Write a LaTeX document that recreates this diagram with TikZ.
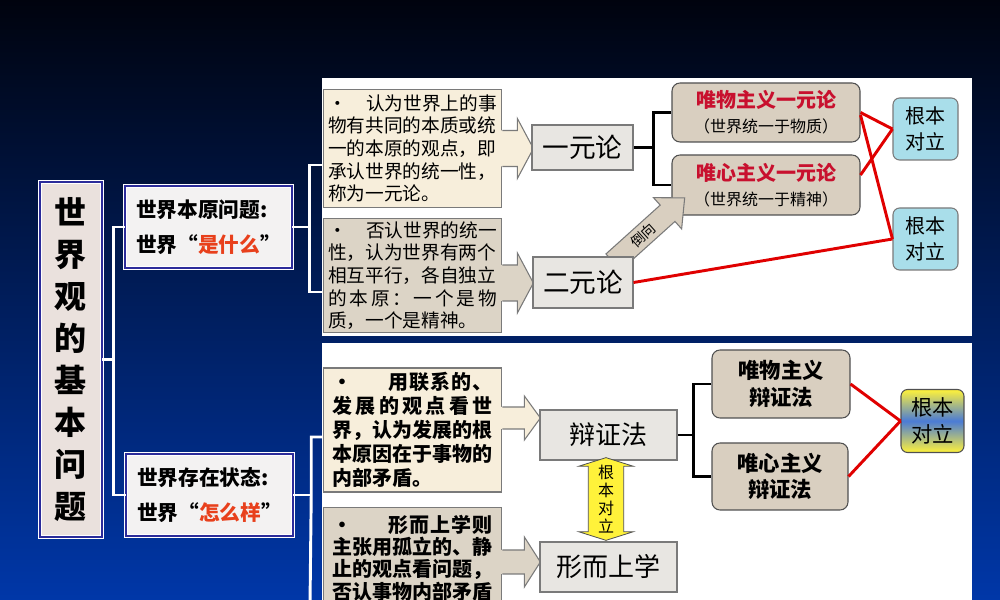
\documentclass[tikz,border=0pt]{standalone}
\usepackage{fontspec}
\setmainfont{Noto Sans CJK SC}
\usepackage{tikz}
\usetikzlibrary{arrows.meta, positioning, calc, shapes.arrows}
\definecolor{deepnavy}{HTML}{00030E}
\definecolor{midnavy}{HTML}{00237A}
\definecolor{lownavy}{HTML}{0037A8}
\definecolor{creambg}{HTML}{F7EEDB}
\definecolor{greige}{HTML}{DCD4C6}
\definecolor{boxgray}{HTML}{E8E6E2}
\definecolor{edgegray}{HTML}{7A7A7A}
\definecolor{beige}{HTML}{D9CFC0}
\definecolor{darkedge}{HTML}{505050}
\definecolor{iceblue}{HTML}{A9DEEA}
\definecolor{qblue}{HTML}{2B2B9A}
\definecolor{qfill}{HTML}{F3F2F2}
\definecolor{stripebg}{HTML}{EAE1DD}
\definecolor{oppred}{HTML}{E00000}
\definecolor{titlered}{HTML}{C8102E}
\definecolor{hotorange}{HTML}{E8401C}
\definecolor{sunyellow}{HTML}{FFF23A}
\definecolor{skyblue}{HTML}{4A7BD6}
\tikzset{
  sidebox/.style={draw=white, double=qblue, double distance=1.6pt, line width=0.6pt, fill=stripebg, align=center,
    inner sep=0pt, minimum width=46.5pt, minimum height=266pt, font=\fontsize{24}{31.5}\selectfont\bfseries},
  qbox/.style={draw=white, double=qblue, double distance=1.6pt, line width=0.6pt, fill=qfill, align=left,
    inner sep=0pt, minimum width=125pt, minimum height=61.5pt, font=\fontsize{15.5}{26}\selectfont\bfseries},
  tbox/.style={fill=#1, draw=edgegray, line width=0.8pt, align=left, inner sep=0pt, minimum width=134pt},
  toptext/.style={text width=126.5pt, font=\fontsize{14}{17}\selectfont},
  lowtext/.style={text width=120.5pt, font=\fontsize{15}{18}\selectfont\bfseries},
  gbox/.style={fill=boxgray, draw=edgegray, line width=0.8pt, inner sep=0pt},
  rbox/.style={fill=beige, draw=darkedge, line width=0.8pt, rounded corners=6pt, align=center, inner sep=0pt},
  cbox/.style={fill=iceblue, draw=edgegray, line width=0.8pt, rounded corners=5pt, align=center, inner sep=0pt,
    minimum width=48.75pt, minimum height=46.5pt, font=\fontsize{15}{19}\selectfont},
  ybox/.style={top color=sunyellow, bottom color=sunyellow, middle color=skyblue, draw=darkedge, line width=0.8pt,
    rounded corners=5pt, align=center, inner sep=0pt, minimum width=47.25pt, minimum height=47.25pt,
    font=\fontsize{16}{20}\selectfont},
  edgeline/.style={draw=edgegray, line width=0.8pt, line join=miter},
  wline/.style={draw=white, line width=2.2pt},
  kline/.style={draw=black, line width=1.9pt},
  rline/.style={draw=oppred, line width=2.2pt}
}
% #1 coordinate on the body edge, #2 fill, #3 shaft half height, #4 head half height, #5 tip length
\newcommand{\sidearrow}[5]{%
  \fill[#2] ($(#1)+(-1.5,-#3)$) -- ($(#1)+({#5-16},-#3)$) -- ($(#1)+({#5-16},-#4)$) -- ($(#1)+(#5,0)$)
    -- ($(#1)+({#5-16},#4)$) -- ($(#1)+({#5-16},#3)$) -- ($(#1)+(-1.5,#3)$) -- cycle;
  \draw[edgeline] ($(#1)+(0,-#3)$) -- ($(#1)+({#5-16},-#3)$) -- ($(#1)+({#5-16},-#4)$) -- ($(#1)+(#5,0)$)
    -- ($(#1)+({#5-16},#4)$) -- ($(#1)+({#5-16},#3)$) -- ($(#1)+(0,#3)$);
}

\begin{document}
\begin{tikzpicture}[x=0.75pt, y=0.75pt]
\useasboundingbox (0,0) rectangle (1000,600);
\shade[top color=deepnavy, middle color=midnavy, bottom color=lownavy] (0,0) rectangle (1000,600);
\fill[white] (322,264) rectangle (972,522);
\fill[white] (322,0) rectangle (972,257);

% left column
\node[sidebox] (side) at (71,240.5) {世\\界\\观\\的\\基\\本\\问\\题};
\node[qbox] (qa) at (208.5,373) {世界本原问题:\\世界“\textcolor{hotorange}{是什么}”};
\node[qbox] (qb) at (209.5,105) {世界存在状态:\\世界“\textcolor{hotorange}{怎么样}”};

% upper panel
\node[tbox=creambg, minimum height=88pt] (t1) at (412.5,451.5) {};
\node[tbox=greige, minimum height=86pt] (t2) at (412.5,324.5) {};
\node[toptext] (t1txt) at (t1) {•\hfill 认为世界上的事\\物有共同的本质或统\\一的本原的观点，即\\承认世界的统一性，\\称为一元论。};
\node[toptext] (t2txt) at (t2) {•\hfill 否认世界的统一\\性，认为世界有两个\\相互平行，各自独立\\的\hfill 本\hfill 原\hfill ：\hfill 一\hfill 个\hfill 是\hfill 物\\质，一个是精神。};
\coordinate (a1) at (t1.east);
\coordinate (a2) at ($(t2.east)+(0,-7.5)$);
\sidearrow{a1}{creambg}{18}{30}{31}
\sidearrow{a2}{greige}{18}{30}{31}

\node[gbox, minimum width=75.75pt, minimum height=33.75pt, font=\fontsize{20}{24}\selectfont] (yi) at (582.5,452.5) {一元论};
\node[rbox, minimum width=141pt, minimum height=44.25pt, font=\fontsize{12}{18.75}\selectfont] (wy) at (766,487.5)
  {\textcolor{titlered}{\fontsize{15}{18.75}\selectfont\bfseries 唯物主义一元论}\\（世界统一于物质）};
\node[rbox, minimum width=141pt, minimum height=45pt, font=\fontsize{12}{18.75}\selectfont] (wx) at (766,415)
  {\textcolor{titlered}{\fontsize{15}{18.75}\selectfont\bfseries 唯心主义一元论}\\（世界统一于精神）};
% block arrow 倒向
\begin{scope}[shift={(649,370)}, rotate=42]
  \filldraw[fill=beige, edgeline] (-48,-11) -- (25,-11) -- (25,-21) -- (48,0) -- (25,21) -- (25,11) -- (-48,11) -- cycle;
  \node[rotate=42, inner sep=0pt, font=\fontsize{10.5}{12}\selectfont] (dx) at (-8,0) {倒向};
\end{scope}
\node[gbox, minimum width=75pt, minimum height=38.25pt, font=\fontsize{20}{24}\selectfont] (er) at (583,317.5) {二元论};
\node[cbox] (gb1) at (925.5,471) {根本\\对立};
\node[cbox] (gb2) at (925.5,361) {根本\\对立};

% lower panel
\node[tbox=creambg, minimum height=93pt] (t3) at (412.5,170) {};
\node[tbox=greige, minimum height=104pt, anchor=north] (t4) at (412.5,93) {};
\node[lowtext] (t3txt) at (t3) {•\hspace{1.8em}用\hfill 联\hfill 系\hfill 的\hfill 、\\发\hfill 展\hfill 的\hfill 观\hfill 点\hfill 看\hfill 世\\界，认为发展的根\\本原因在于事物的\\内部矛盾。};
\node[lowtext, anchor=north, font=\fontsize{15}{16.8}\selectfont\bfseries] (t4txt) at (412.5,90) {•\hspace{1.8em}形\hfill 而\hfill 上\hfill 学\hfill 则\\主张用孤立的、静\\止的观点看问题，\\否认事物内部矛盾};
\coordinate (a3) at ($(t3.east)+(0,12)$);
\coordinate (a4) at ($(t4.north east)+(0,-55)$);
\sidearrow{a3}{creambg}{11}{22}{38}
\sidearrow{a4}{greige}{12}{25}{38}

\node[gbox, minimum width=102.75pt, minimum height=37.5pt, font=\fontsize{19.5}{24}\selectfont] (bz) at (608.5,165) {辩证法};
\node[gbox, minimum width=102.75pt, minimum height=37.5pt, font=\fontsize{19.5}{24}\selectfont] (xs) at (608.5,33) {形而上学};
\node[shape=double arrow, shape border rotate=90, double arrow head extend=7pt, double arrow tip angle=145,
  minimum height=61.5pt, minimum width=28.5pt, inner xsep=7pt, inner ysep=1pt, draw=darkedge, line width=0.6pt,
  top color=sunyellow, middle color=skyblue, bottom color=sunyellow, align=center,
  font=\fontsize{12}{13.5}\selectfont] (rd) at (606,101) {根\\本\\对\\立};
\node[rbox, minimum width=103.5pt, minimum height=51pt, font=\fontsize{16}{20}\selectfont\bfseries] (bw) at (781,216) {唯物主义\\辩证法};
\node[rbox, minimum width=102pt, minimum height=50.25pt, font=\fontsize{16}{20}\selectfont\bfseries] (bx) at (780,123.5) {唯心主义\\辩证法};
\node[ybox] (gb3) at (932.5,179) {根本\\对立};

% white brackets
\draw[wline] (side.east) -- ++(12,0);
\draw[wline] (qa.west) -- ++(-11,0) |- (qb.west);
\draw[wline] (qa.east) -- ++(17,0) coordinate (ja);
\draw[wline] ($(t1.west)+(0,-16.5)$) -| (ja) |- ($(t2.west)+(0,-16.5)$);
\draw[wline] (qb.east) -- ++(18,0) coordinate (jb);
\coordinate (jbend) at (310,-5);
\draw[wline] ($(t3.west)+(0,-7)$) -| (jb) -- (jbend);

% black brackets
\draw[kline] (yi.east) -- ++(20,0) coordinate (jy);
\draw[kline] (wy.west) -| (jy) |- (wx.west);
\draw[kline] (bz.east) -- ++(16,0) coordinate (jz);
\draw[kline] (bw.west) -| (jz) |- (bx.west);

% red links
\draw[rline] (wy.east) -- (gb1.west);
\draw[rline] ([yshift=7.5pt]wx.east) -- (gb1.west);
\draw[rline] ([yshift=-2pt]wy.east) -- (gb2.west);
\draw[rline] (er.east) -- (gb2.west);
\draw[rline] (bw.east) -- (gb3.west);
\draw[rline] (bx.east) -- (gb3.west);
\end{tikzpicture}
\end{document}
